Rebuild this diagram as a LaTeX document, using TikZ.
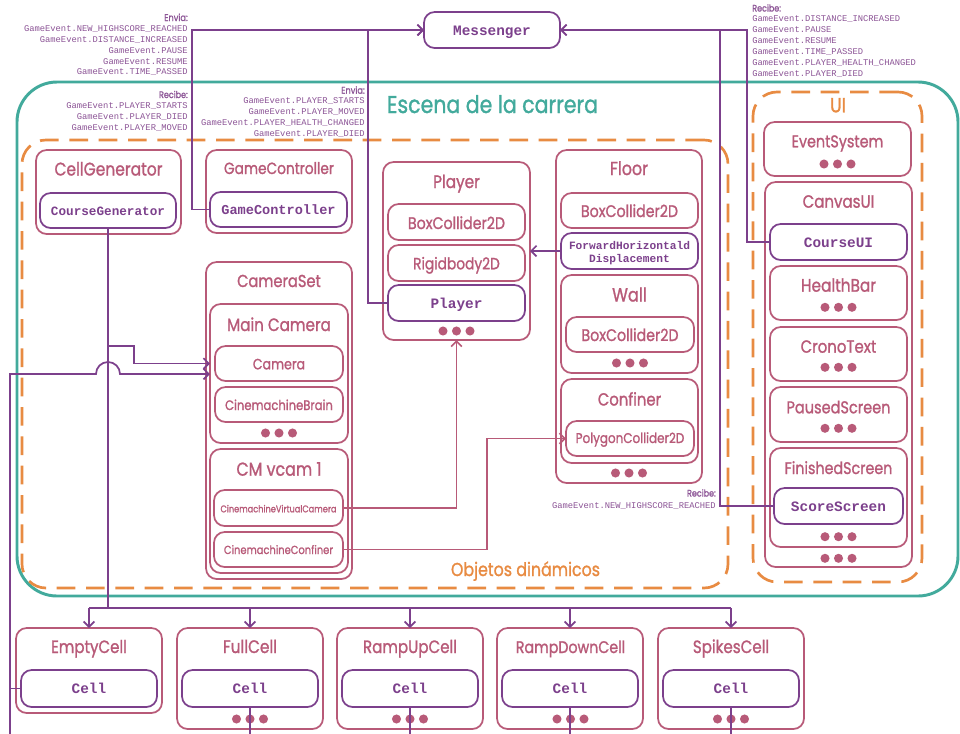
\documentclass[tikz,border=0pt]{standalone}
\usepackage{fontspec}
\usepackage{graphicx}
\setsansfont{Poppins}
\setmonofont{Liberation Mono}
\newfontfamily\gsans[FakeBold=1.3]{Poppins}
\newfontfamily\gmono{Liberation Mono}
\usetikzlibrary{arrows.meta}

\definecolor{rose}{RGB}{184,90,120}
\definecolor{purp}{RGB}{124,64,140}
\definecolor{evtc}{RGB}{140,84,150}
\definecolor{tealc}{RGB}{66,170,156}
\definecolor{orng}{RGB}{232,139,66}

% text of a given width (pt), set in the sans family, a little taller than its natural shape
\newcommand{\rz}[2]{\scalebox{1}[1.18]{\resizebox{#1pt}{!}{\gsans #2}}}
% a box node from its corners (px)
\newcommand{\mkbox}[6][]{\node[#1, minimum width={((#5)-(#3))*0.75pt}, minimum height={((#6)-(#4))*0.75pt}] (#2) at ({((#3)+(#5))/2},{((#4)+(#6))/2}) {};}
% a label whose baseline sits at (x,y)
\newcommand{\putlbl}[6][]{\node[lbl,#1] (#2) at (#3,#4) {\rz{#5}{#6}};}
% the three dots that stand for further components
\newcommand{\threedots}[2]{\foreach \k in {-1,0,1} \fill[rose] ({#1+13.5*\k},#2) circle[radius=3.4pt];}

\tikzset{
  obj/.style={draw=rose, line width=1.3pt, rounded corners=8pt, inner sep=0pt, outer sep=0pt},
  scr/.style={draw=purp, line width=1.3pt, rounded corners=8pt, inner sep=0pt, outer sep=0pt},
  grp/.style={draw=orng, line width=2pt, dash pattern=on 14pt off 8pt, rounded corners=18pt, inner sep=0pt, outer sep=0pt},
  scene/.style={draw=tealc, line width=2.2pt, rounded corners=30pt, inner sep=0pt, outer sep=0pt},
  lbl/.style={anchor=base, inner sep=0pt, text=rose},
  code/.style={anchor=base, inner sep=0pt, text=purp, font=\gmono\bfseries\fontsize{10.8}{12}\selectfont},
  evt/.style={inner sep=0pt, text=evtc, font=\gmono\fontsize{6.6}{8}\selectfont},
  link/.style={draw=purp, line width=1.3pt},
  rlink/.style={draw=rose, line width=1.3pt},
  tip/.style={-{Straight Barb[length=4pt,width=8pt]}},
}

\begin{document}
\begin{tikzpicture}[x=0.75pt,y=-0.75pt]
\useasboundingbox (0,0) rectangle (960,733);
\fill[white] (0,0) rectangle (960,733);

% ---------- containers ----------
\mkbox[scene]{scene}{17}{82}{958}{596}
\mkbox[grp]{dyn}{22}{140}{728}{588}
\mkbox[grp]{uigrp}{753}{92}{922}{582}
\putlbl[text=tealc]{tscene}{492.5}{113}{158.3}{Escena de la carrera}
\putlbl[text=orng]{tdyn}{525.5}{576}{111.8}{Objetos dinámicos}
\putlbl[text=orng]{tui}{838}{112.3}{12}{UI}

% ---------- messenger ----------
\mkbox[scr]{msg}{424}{12}{560}{48}
\node[code] (tmsg) at (492,35.5) {Messenger};

% ---------- CellGenerator ----------
\mkbox[obj]{cellgen}{36}{150}{181}{234}
\mkbox[scr]{cgs}{40}{193}{176}{228}
\putlbl{tcellgen}{108.5}{175.5}{81}{CellGenerator}
\node[code, font=\gmono\bfseries\fontsize{9.5}{11}\selectfont] (tcgs) at (108,215) {CourseGenerator};

% ---------- GameController ----------
\mkbox[obj]{gcbox}{206}{150}{352}{233}
\mkbox[scr]{gcs}{210}{192}{347}{227}
\putlbl{tgc}{279}{174}{82.5}{GameController}
\node[code, font=\gmono\bfseries\fontsize{10.2}{12}\selectfont] (tgcs) at (278.5,214.5) {GameController};

% ---------- Player ----------
\mkbox[obj]{pbox}{383}{162}{530}{340}
\mkbox[obj]{pbc}{388}{204}{525}{240}
\mkbox[obj]{prb}{388}{245}{525}{281}
\mkbox[scr]{pscr}{388}{285}{525}{321}
\putlbl{tplayer}{456.5}{188}{35}{Player}
\putlbl{tpbc}{456.5}{229}{72.8}{BoxCollider2D}
\putlbl{tprb}{456.5}{269.3}{65}{Rigidbody2D}
\node[code] (tpscr) at (456.5,308) {Player};
\threedots{456.5}{331}

% ---------- Floor ----------
\mkbox[obj]{floor}{556}{150}{702}{483}
\mkbox[obj]{fbc}{561}{193}{698}{228}
\mkbox[scr]{fwd}{561}{233}{698}{269}
\mkbox[obj]{wall}{561}{275}{698}{373}
\mkbox[obj]{wbc}{566}{317}{694}{352}
\mkbox[obj]{conf}{561}{379}{698}{463}
\mkbox[obj]{poly}{566}{421}{694}{456}
\putlbl{tfloor}{629}{175}{28.5}{Floor}
\putlbl{tfbc}{629.5}{217}{72.8}{BoxCollider2D}
\node[code, font=\gmono\bfseries\fontsize{8.4}{10}\selectfont] (tfwd1) at (629.5,249) {ForwardHorizontald};
\node[code, font=\gmono\bfseries\fontsize{8.4}{10}\selectfont] (tfwd2) at (629.5,262.5) {Displacement};
\putlbl{twall}{629.5}{301.5}{26}{Wall}
\putlbl{twbc}{630}{341}{72.8}{BoxCollider2D}
\threedots{630}{363}
\putlbl{tconf}{629.5}{405.5}{47.5}{Confiner}
\putlbl{tpoly}{630}{443}{81.5}{PolygonCollider2D}
\threedots{629}{473}

% ---------- CameraSet ----------
\mkbox[obj]{camset}{206}{262}{352}{579}
\mkbox[obj]{mc}{210}{304}{348}{443}
\mkbox[obj]{cam}{215}{346}{343}{381}
\mkbox[obj]{cbrain}{215}{387}{343}{422}
\mkbox[obj]{vcam}{210}{449}{348}{573}
\mkbox[obj]{cvc}{214}{490}{343}{526}
\mkbox[obj]{ccf}{214}{532}{343}{567}
\putlbl{tcamset}{279}{287}{62.8}{CameraSet}
\putlbl{tmc}{279}{331}{77.8}{Main Camera}
\putlbl{tcam}{279}{369.3}{39.2}{Camera}
\putlbl{tcbrain}{279}{410}{80.8}{CinemachineBrain}
\threedots{279}{433}
\putlbl{tvcam}{279}{475.7}{63.8}{CM vcam 1}
\putlbl{tcvc}{278.5}{512.3}{87}{CinemachineVirtualCamera}
\putlbl{tccf}{278.5}{554}{81.8}{CinemachineConfiner}

% ---------- UI ----------
\mkbox[obj]{evs}{764}{122}{911}{176}
\putlbl{tevs}{837.5}{147.3}{68.8}{EventSystem}
\threedots{837.5}{164}
\mkbox[obj]{canvas}{765}{182}{912}{567}
\putlbl{tcanvas}{838.5}{207.7}{53.8}{CanvasUI}
\mkbox[scr]{cui}{770}{224}{907}{260}
\node[code] (tcui) at (838.5,247) {CourseUI};
\mkbox[obj]{hb}{770}{266}{907}{320}
\putlbl{thb}{838.5}{291.7}{56.3}{HealthBar}
\threedots{838.5}{307.3}
\mkbox[obj]{crono}{770}{327}{907}{381}
\putlbl{tcrono}{838.5}{352.7}{56.8}{CronoText}
\threedots{838.5}{367.3}
\mkbox[obj]{paused}{770}{387}{907}{442}
\putlbl{tpaused}{838.5}{413.3}{78}{PausedScreen}
\threedots{838.5}{428.3}
\mkbox[obj]{fin}{770}{448}{907}{547}
\putlbl{tfin}{838.5}{474}{80.8}{FinishedScreen}
\mkbox[scr]{scs}{774}{488}{903}{524}
\node[code] (tscs) at (838.5,511.7) {ScoreScreen};
\threedots{838.5}{536.7}
\threedots{838.5}{558.3}

% ---------- cells ----------
\mkbox[obj]{cell1}{16}{628}{162}{713}
\foreach \x [count=\i from 2] in {177,337,497,658} {
  \mkbox[obj]{cell\i}{\x}{628}{\x+146}{729}
}
\foreach \x [count=\i] in {16,177,337,497,658} {
  \mkbox[scr]{cs\i}{\x+5}{670}{\x+141}{707}
  \node[code] (tcs\i) at (\x+73,693) {Cell};
}
\putlbl{tcell1}{89}{653}{56.8}{EmptyCell}
\putlbl{tcell2}{250}{653}{40.5}{FullCell}
\putlbl{tcell3}{410}{653}{70.5}{RampUpCell}
\putlbl{tcell4}{570.5}{653}{82}{RampDownCell}
\putlbl{tcell5}{731}{653}{57.2}{SpikesCell}
\foreach \x in {250,410,570.5,731} { \threedots{\x}{719} }

% ---------- event lists ----------
\node[lbl, text=evtc, anchor=base east] (envA) at (188,21) {\rz{17.6}{Envia:}};
\foreach \t [count=\i] in {GameEvent.NEW\_HIGHSCORE\_REACHED,GameEvent.DISTANCE\_INCREASED,GameEvent.PAUSE,GameEvent.RESUME,GameEvent.TIME\_PASSED}
  \node[evt, anchor=base east] (ea\i) at (188,{20.8+10.8*\i}) {\t};

\node[lbl, text=evtc, anchor=base east] (recB) at (188,98) {\rz{21.5}{Recibe:}};
\foreach \t [count=\i] in {GameEvent.PLAYER\_STARTS,GameEvent.PLAYER\_DIED,GameEvent.PLAYER\_MOVED}
  \node[evt, anchor=base east] (eb\i) at (188,{97.7+10.8*\i}) {\t};

\node[lbl, text=evtc, anchor=base east] (envC) at (365,93.7) {\rz{17.6}{Envia:}};
\foreach \t [count=\i] in {GameEvent.PLAYER\_STARTS,GameEvent.PLAYER\_MOVED,GameEvent.PLAYER\_HEALTH\_CHANGED,GameEvent.PLAYER\_DIED}
  \node[evt, anchor=base east] (ec\i) at (365,{92.5+11*\i}) {\t};

\node[lbl, text=evtc, anchor=base west] (recD) at (752,11.5) {\rz{21.5}{Recibe:}};
\foreach \t [count=\i] in {GameEvent.DISTANCE\_INCREASED,GameEvent.PAUSE,GameEvent.RESUME,GameEvent.TIME\_PASSED,GameEvent.PLAYER\_HEALTH\_CHANGED,GameEvent.PLAYER\_DIED}
  \node[evt, anchor=base west] (ed\i) at (752,{11+10.95*\i}) {\t};

\node[lbl, text=evtc, anchor=base east] (recE) at (716,496.5) {\rz{21.5}{Recibe:}};
\node[evt, anchor=base east] (ee1) at (716,508.8) {GameEvent.NEW\_HIGHSCORE\_REACHED};

% ---------- connectors ----------
\coordinate (j0) at (192,30);
\coordinate (j1) at (368,30);
\coordinate (j2) at (747,30);
\coordinate (j3) at (720,30);
\coordinate (bus) at (108,608);
\coordinate (b1) at (108,346);
\coordinate (lbot) at (10,745);

\draw[link,tip] (gcs.west) -| (j0) -- (msg.west);
\draw[link,tip] (pscr.west) -| (j1) -- (msg.west);
\draw[link,tip] (cui.west) -| (j2) -- (msg.east);
\draw[link,tip] (scs.west) -| (j3) -- (msg.east);

\draw[link,tip] (fwd.west) -- (pbox.east |- fwd.west);

\draw[link] (cgs.south) -- (bus);
\draw[link] (cell1.north |- bus) -- (cell5.north |- bus);
\foreach \i in {1,...,5} { \draw[link,tip] (cell\i.north |- bus) -- (cell\i.north); }
\draw[link,tip] (b1) -- ++(26,0) |- (mc.west |- cam.west);
\draw[link,tip] (lbot) -- (10,374) -- (96,374) arc[start angle=180,end angle=360,radius=12] -- (mc.west |- 0,374);
\draw[link] (cs1.west) -- (lbot |- cs1.west);
\foreach \i in {2,...,5} { \draw[link] (cs\i.south) -- (cs\i.south |- lbot); }

\draw[rlink,tip] (cvc.east) -| (pbox.south);
\draw[rlink,tip] (ccf.east) -- ++(144,0) |- (poly.west);
\end{tikzpicture}
\end{document}
